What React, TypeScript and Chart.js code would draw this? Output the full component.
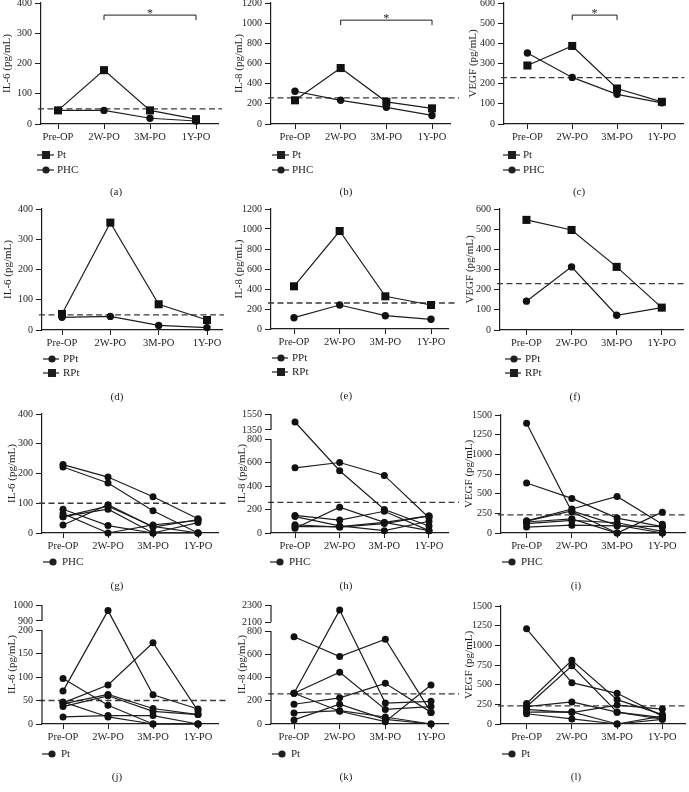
import React, { useEffect, useRef } from "react";
import { Chart, registerables, LinearScale } from "chart.js";

Chart.register(...registerables);

// ---------------- data ----------------
const CATEGORIES = ["Pre-OP", "2W-PO", "3M-PO", "1Y-PO"];

const IL6_TICKS = [0, 100, 200, 300, 400];
const IL8_TICKS = [0, 200, 400, 600, 800, 1000, 1200];
const VEGF_TICKS = [0, 100, 200, 300, 400, 500, 600];
const VEGF_IND_TICKS = [0, 250, 500, 750, 1000, 1250, 1500];
const IL8_PHC_TICKS = [0, 200, 400, 600, 800, 1350, 1550];
const IL6_PT_TICKS = [0, 50, 100, 150, 200, 900, 1000];
const IL8_PT_TICKS = [0, 200, 400, 600, 800, 2100, 2300];

const REF_IL6 = 50;
const REF_IL6_PHC = 100;
const REF_IL8 = 260;
const REF_VEGF = 230;

// (a)-(c) group means
const IL6_PT = [45, 178, 45, 16];
const IL6_PHC = [45, 45, 19, 10];
const IL8_PT = [235, 555, 220, 155];
const IL8_PHC = [325, 235, 165, 85];
const VEGF_PT = [290, 387, 176, 110];
const VEGF_PHC = [352, 231, 147, 105];

// (d)-(f)
const IL6_PPT = [42, 45, 15, 8];
const IL6_RPT = [53, 355, 85, 33];
const IL8_PPT = [113, 240, 133, 97];
const IL8_RPT = [427, 980, 327, 240];
const VEGF_PPT = [143, 313, 73, 111];
const VEGF_RPT = [546, 496, 313, 111];

// (g)-(i) individual PHC
const IL6_PHC_IND = [
  [230, 188, 122, 48],
  [222, 168, 75, 0],
  [80, 25, 0, 35],
  [65, 0, 27, 42],
  [55, 90, 22, 0],
  [27, 95, 20, 45],
  [55, 80, 0, 0],
];
const IL8_PHC_IND = [
  [1450, 530, 200, 60],
  [555, 600, 490, 130],
  [40, 220, 90, 145],
  [150, 110, 185, 20],
  [140, 60, 20, 100],
  [70, 50, 80, 145],
  [55, 55, 90, 20],
];
const VEGF_PHC_IND = [
  [1395, 270, 0, 0],
  [635, 440, 190, 80],
  [155, 305, 465, 110],
  [140, 180, 0, 265],
  [120, 160, 130, 20],
  [75, 100, 90, 80],
  [150, 280, 100, 0],
];

// (j)-(l) individual Pt
const IL6_PT_IND = [
  [70, 965, 62, 32],
  [45, 83, 173, 28],
  [97, 40, 0, 0],
  [43, 63, 33, 20],
  [37, 60, 27, 20],
  [15, 18, 18, 0],
  [47, 15, 0, 0],
];
const IL8_PT_IND = [
  [750, 580, 730, 100],
  [265, 2240, 180, 195],
  [265, 445, 125, 150],
  [170, 225, 350, 100],
  [95, 115, 60, 0],
  [35, 170, 40, 0],
  [265, 110, 20, 335],
];
const VEGF_PT_IND = [
  [1210, 525, 390, 100],
  [260, 810, 310, 120],
  [220, 740, 150, 80],
  [220, 280, 150, 60],
  [185, 145, 240, 190],
  [150, 155, 0, 100],
  [130, 65, 0, 60],
];

// ---------------- styling / scale helpers ----------------
const FONT = "'Liberation Serif', 'Times New Roman', serif";
const INK = "#1e1e1e";
const DASH = "#3a3a3a";
Chart.defaults.font.family = FONT;
Chart.defaults.font.size = 10;
Chart.defaults.color = INK;

type Brk = { lowMax: number; highMin: number; highMax: number; lowPx: number; gapPx: number; highPx: number };

function brokenValue(b: Brk, v: number): number {
  if (v <= b.lowMax) return v;
  const u = b.lowMax / b.lowPx;
  const w = Math.max(v, b.highMin);
  return b.lowMax + b.gapPx * u + ((w - b.highMin) / (b.highMax - b.highMin)) * b.highPx * u;
}

const BRK_BY_CANVAS = new WeakMap<HTMLCanvasElement, Brk>();

class BrokenScale extends LinearScale {
  static id = "broken";
  static defaults = (LinearScale as any).defaults;
  getPixelForValue(value: number) {
    const b = BRK_BY_CANVAS.get((this as any).chart.canvas);
    return super.getPixelForValue(b ? brokenValue(b, value) : value);
  }
}
Chart.register(BrokenScale as any);

type Shape = "rect" | "circle";
type Geo = {
  cellL: number; cellR: number; bottom: number;
  L: number; R: number; T: number; B: number;
  first: number; last: number; titleX: number; dashExt: number; legDx: number;
};
type Panel = {
  letter: string;
  yTitle: string;
  series: { values: number[]; shape: Shape }[];
  legend: { label: string; shape: Shape }[];
  ticks: number[];
  yMax: number;
  ref: number;
  bracket?: { from: number; to: number; level: number };
  broken?: Brk;
  row: number;
  geo: Geo;
};

const ind = (rows: number[][]) => rows.map((values) => ({ values, shape: "circle" as Shape }));

const PANELS: Panel[] = [
  {
    letter: "a", yTitle: "IL-6 (pg/mL)", row: 1,
    series: [{ values: IL6_PT, shape: "rect" }, { values: IL6_PHC, shape: "circle" }],
    legend: [{ label: "Pt", shape: "rect" }, { label: "PHC", shape: "circle" }],
    ticks: IL6_TICKS, yMax: 400, ref: REF_IL6, bracket: { from: 1, to: 3, level: 360 },
    geo: { cellL: 0, cellR: 230, bottom: 200, L: 41, R: 218, T: 3, B: 124, first: 58, last: 196, titleX: 7, dashExt: 4, legDx: -5 },
  },
  {
    letter: "b", yTitle: "IL-8 (pg/mL)", row: 1,
    series: [{ values: IL8_PT, shape: "rect" }, { values: IL8_PHC, shape: "circle" }],
    legend: [{ label: "Pt", shape: "rect" }, { label: "PHC", shape: "circle" }],
    ticks: IL8_TICKS, yMax: 1200, ref: REF_IL8, bracket: { from: 1, to: 3, level: 1030 },
    geo: { cellL: 230, cellR: 459, bottom: 200, L: 271, R: 450, T: 3, B: 124, first: 295, last: 432, titleX: 239, dashExt: 9, legDx: 0 },
  },
  {
    letter: "c", yTitle: "VEGF (pg/mL)", row: 1,
    series: [{ values: VEGF_PT, shape: "rect" }, { values: VEGF_PHC, shape: "circle" }],
    legend: [{ label: "Pt", shape: "rect" }, { label: "PHC", shape: "circle" }],
    ticks: VEGF_TICKS, yMax: 600, ref: REF_VEGF, bracket: { from: 1, to: 2, level: 540 },
    geo: { cellL: 459, cellR: 689, bottom: 200, L: 504, R: 688, T: 3, B: 124, first: 528, last: 666, titleX: 473, dashExt: 1, legDx: -2 },
  },
  {
    letter: "d", yTitle: "IL-6 (pg/mL)", row: 2,
    series: [{ values: IL6_RPT, shape: "rect" }, { values: IL6_PPT, shape: "circle" }],
    legend: [{ label: "PPt", shape: "circle" }, { label: "RPt", shape: "rect" }],
    ticks: IL6_TICKS, yMax: 400, ref: REF_IL6,
    geo: { cellL: 0, cellR: 230, bottom: 404, L: 42, R: 222, T: 209, B: 330, first: 62, last: 207, titleX: 8, dashExt: 2, legDx: 0 },
  },
  {
    letter: "e", yTitle: "IL-8 (pg/mL)", row: 2,
    series: [{ values: IL8_RPT, shape: "rect" }, { values: IL8_PPT, shape: "circle" }],
    legend: [{ label: "PPt", shape: "circle" }, { label: "RPt", shape: "rect" }],
    ticks: IL8_TICKS, yMax: 1200, ref: REF_IL8,
    geo: { cellL: 230, cellR: 459, bottom: 404, L: 271, R: 448, T: 209, B: 329, first: 294, last: 431, titleX: 239, dashExt: 10, legDx: 0 },
  },
  {
    letter: "f", yTitle: "VEGF (pg/mL)", row: 2,
    series: [{ values: VEGF_RPT, shape: "rect" }, { values: VEGF_PPT, shape: "circle" }],
    legend: [{ label: "PPt", shape: "circle" }, { label: "RPt", shape: "rect" }],
    ticks: VEGF_TICKS, yMax: 600, ref: REF_VEGF,
    geo: { cellL: 459, cellR: 689, bottom: 404, L: 500, R: 687, T: 209, B: 330, first: 527, last: 665, titleX: 470, dashExt: 2, legDx: 4 },
  },
  {
    letter: "g", yTitle: "IL-6 (pg/mL)", row: 3,
    series: ind(IL6_PHC_IND), legend: [{ label: "PHC", shape: "circle" }],
    ticks: IL6_TICKS, yMax: 400, ref: REF_IL6_PHC,
    geo: { cellL: 0, cellR: 230, bottom: 595, L: 42, R: 218, T: 414, B: 533, first: 63, last: 198, titleX: 12, dashExt: 11, legDx: 0 },
  },
  {
    letter: "h", yTitle: "IL-8 (pg/mL)", row: 3,
    series: ind(IL8_PHC_IND), legend: [{ label: "PHC", shape: "circle" }],
    ticks: IL8_PHC_TICKS, yMax: 1550, ref: REF_IL8,
    broken: { lowMax: 800, highMin: 1350, highMax: 1550, lowPx: 94, gapPx: 9, highPx: 16 },
    geo: { cellL: 230, cellR: 459, bottom: 595, L: 271, R: 448, T: 414, B: 533, first: 295, last: 429, titleX: 242, dashExt: 11, legDx: -2 },
  },
  {
    letter: "i", yTitle: "VEGF (pg/mL)", row: 3,
    series: ind(VEGF_PHC_IND), legend: [{ label: "PHC", shape: "circle" }],
    ticks: VEGF_IND_TICKS, yMax: 1500, ref: REF_VEGF,
    geo: { cellL: 459, cellR: 689, bottom: 595, L: 501, R: 688, T: 415, B: 533, first: 527, last: 665, titleX: 469, dashExt: 1, legDx: 0 },
  },
  {
    letter: "j", yTitle: "IL-6 (pg/mL)", row: 4,
    series: ind(IL6_PT_IND), legend: [{ label: "Pt", shape: "circle" }],
    ticks: IL6_PT_TICKS, yMax: 1000, ref: REF_IL6,
    broken: { lowMax: 200, highMin: 900, highMax: 1000, lowPx: 94, gapPx: 9, highPx: 16 },
    geo: { cellL: 0, cellR: 230, bottom: 792, L: 42, R: 218, T: 605, B: 724, first: 63, last: 198, titleX: 12, dashExt: 11, legDx: -1 },
  },
  {
    letter: "k", yTitle: "IL-8 (pg/mL)", row: 4,
    series: ind(IL8_PT_IND), legend: [{ label: "Pt", shape: "circle" }],
    ticks: IL8_PT_TICKS, yMax: 2300, ref: REF_IL8,
    broken: { lowMax: 800, highMin: 2100, highMax: 2300, lowPx: 93, gapPx: 9, highPx: 17 },
    geo: { cellL: 230, cellR: 459, bottom: 792, L: 271, R: 448, T: 605, B: 724, first: 294, last: 431, titleX: 242, dashExt: 11, legDx: 0 },
  },
  {
    letter: "l", yTitle: "VEGF (pg/mL)", row: 4,
    series: ind(VEGF_PT_IND), legend: [{ label: "Pt", shape: "circle" }],
    ticks: VEGF_IND_TICKS, yMax: 1500, ref: REF_VEGF,
    geo: { cellL: 459, cellR: 689, bottom: 792, L: 501, R: 688, T: 606, B: 724, first: 527, last: 665, titleX: 469, dashExt: 1, legDx: 0 },
  },
];

const LEGEND_ROWS: Record<number, { dys: number[]; label: number; x0: number; xm: number; x1: number; xt: number }> = {
  1: { dys: [31, 46], label: 68, x0: 1, xm: 10, x1: 18, xt: 21 },
  2: { dys: [29, 43], label: 67, x0: 1, xm: 10, x1: 17, xt: 21 },
  3: { dys: [29], label: 53, x0: 1, xm: 11, x1: 11, xt: 20 },
  4: { dys: [30], label: 53, x0: 1, xm: 11, x1: 11, xt: 20 },
};

const X_H = 22;
const PAD_TOP = 10;

function drawMarker(ctx: CanvasRenderingContext2D, shape: Shape, x: number, y: number) {
  ctx.beginPath();
  if (shape === "rect") ctx.rect(x - 4, y - 4, 8, 8);
  else ctx.arc(x, y, 3.6, 0, Math.PI * 2);
  ctx.fill();
}

function decorPlugin(p: Panel) {
  const g = p.geo;
  const leg = LEGEND_ROWS[p.row];
  return {
    id: "decor_" + p.letter,
    beforeDatasetsDraw(chart: any) {
      const { ctx, chartArea: a } = chart;
      const y = chart.scales.y.getPixelForValue(p.ref);
      ctx.save();
      ctx.strokeStyle = DASH;
      ctx.lineWidth = 1.3;
      ctx.setLineDash([6, 3.5]);
      ctx.beginPath();
      ctx.moveTo(a.left - 3, y);
      ctx.lineTo(a.right + g.dashExt, y);
      ctx.stroke();
      ctx.restore();
    },
    afterDraw(chart: any) {
      const { ctx, chartArea: a } = chart;
      const xs = chart.scales.x;
      const ys = chart.scales.y;
      ctx.save();
      ctx.strokeStyle = INK;
      ctx.fillStyle = INK;
      ctx.lineWidth = 1.2;
      if (p.broken) {
        const b = p.broken;
        const seg = (v0: number, v1: number) => {
          ctx.beginPath();
          ctx.moveTo(a.left, ys.getPixelForValue(v0));
          ctx.lineTo(a.left, ys.getPixelForValue(v1));
          ctx.stroke();
        };
        seg(0, b.lowMax);
        seg(b.highMin, b.highMax);
      }
      if (p.bracket) {
        const x1 = xs.getPixelForValue(p.bracket.from);
        const x2 = xs.getPixelForValue(p.bracket.to);
        const y = ys.getPixelForValue(p.bracket.level);
        ctx.lineWidth = 1;
        ctx.beginPath();
        ctx.moveTo(x1, y + 5);
        ctx.lineTo(x1, y);
        ctx.lineTo(x2, y);
        ctx.lineTo(x2, y + 5);
        ctx.stroke();
        ctx.font = `12px ${FONT}`;
        ctx.textAlign = "center";
        ctx.textBaseline = "alphabetic";
        ctx.fillText("*", (x1 + x2) / 2, y + 2);
      }
      ctx.font = `11px ${FONT}`;
      ctx.textBaseline = "middle";
      ctx.lineWidth = 1.2;
      const lx = a.left + g.legDx;
      p.legend.forEach((item, k) => {
        const yy = a.bottom + leg.dys[k];
        ctx.beginPath();
        ctx.moveTo(lx + leg.x0, yy);
        ctx.lineTo(lx + leg.x1, yy);
        ctx.stroke();
        drawMarker(ctx, item.shape, lx + leg.xm, yy);
        ctx.textAlign = "left";
        ctx.fillText(item.label, lx + leg.xt, yy);
      });
      ctx.textAlign = "center";
      ctx.fillText(`(${p.letter})`, a.left + 75, a.bottom + leg.label);
      ctx.restore();
    },
  };
}

function PanelChart({ p }: { p: Panel }) {
  const ref = useRef<HTMLCanvasElement>(null);
  const g = p.geo;
  const top = g.T - PAD_TOP;
  const w = g.cellR - g.cellL;
  const h = g.bottom - top;

  useEffect(() => {
    const canvas = ref.current!;
    if (p.broken) BRK_BY_CANVAS.set(canvas, p.broken);
    const sp = (g.last - g.first) / 3;
    const xmin = -(g.first - g.L) / sp;
    const xmax = CATEGORIES.length - 1 + (g.R - g.last) / sp;
    const ymax = p.broken ? brokenValue(p.broken, p.broken.highMax) : p.yMax;
    const isInd = p.row >= 3;

    const datasets = p.series.map((s) => ({
      data: s.values.map((v, i) => ({ x: i, y: v })),
      borderColor: INK,
      backgroundColor: INK,
      borderWidth: 1.2,
      pointStyle: s.shape,
      pointRadius: s.shape === "rect" ? 5.7 : isInd ? 3.5 : 3.7,
      pointBorderWidth: 0,
      pointBackgroundColor: "#111",
      tension: 0,
      clip: false as any,
    }));

    const chart = new Chart(canvas, {
      type: "line",
      data: { datasets },
      options: {
        animation: false,
        responsive: false,
        events: [],
        layout: {
          padding: {
            top: PAD_TOP,
            left: 0,
            right: g.cellR - g.R,
            bottom: h - PAD_TOP - (g.B - g.T) - X_H,
          },
        },
        plugins: { legend: { display: false }, tooltip: { enabled: false } },
        scales: {
          x: {
            type: "linear",
            min: xmin,
            max: xmax,
            afterBuildTicks: (s: any) => {
              s.ticks = CATEGORIES.map((_, i) => ({ value: i }));
            },
            afterFit: (s: any) => {
              s.height = X_H;
            },
            ticks: {
              callback: (v: any) => CATEGORIES[Math.round(Number(v))] ?? "",
              color: INK,
              font: { size: 10.5 },
              padding: 2,
              maxRotation: 0,
              autoSkip: false,
            },
            grid: { drawOnChartArea: false, drawTicks: true, tickLength: 5, color: INK, lineWidth: 1 },
            border: { display: true, color: INK, width: 1.2 },
          },
          y: {
            type: (p.broken ? "broken" : "linear") as any,
            min: 0,
            max: ymax,
            bounds: "data",
            afterBuildTicks: (s: any) => {
              s.ticks = p.ticks.map((v) => ({ value: v }));
            },
            afterFit: (s: any) => {
              s.width = g.L - g.cellL;
            },
            ticks: {
              callback: (v: any) => String(v),
              color: INK,
              font: { size: 10 },
              padding: 3,
            },
            grid: { drawOnChartArea: false, drawTicks: true, tickLength: 6, color: INK, lineWidth: 1 },
            border: { display: !p.broken, color: INK, width: 1.2 },
            title: {
              display: true,
              text: p.yTitle,
              color: INK,
              font: { size: 11 },
              padding: { top: Math.max(0, g.titleX - g.cellL - 6.6), bottom: 0 },
            },
          },
        },
      } as any,
      plugins: [decorPlugin(p)],
    });
    return () => chart.destroy();
  }, [p]);

  return (
    <canvas
      ref={ref}
      width={w}
      height={h}
      style={{ position: "absolute", left: g.cellL, top, width: w, height: h }}
    />
  );
}

export default function App() {
  return (
    <div
      style={{
        position: "absolute",
        left: 0,
        top: 0,
        width: 689,
        height: 792,
        overflow: "hidden",
        background: "#ffffff",
      }}
    >
      {PANELS.map((p) => (
        <PanelChart key={p.letter} p={p} />
      ))}
    </div>
  );
}
